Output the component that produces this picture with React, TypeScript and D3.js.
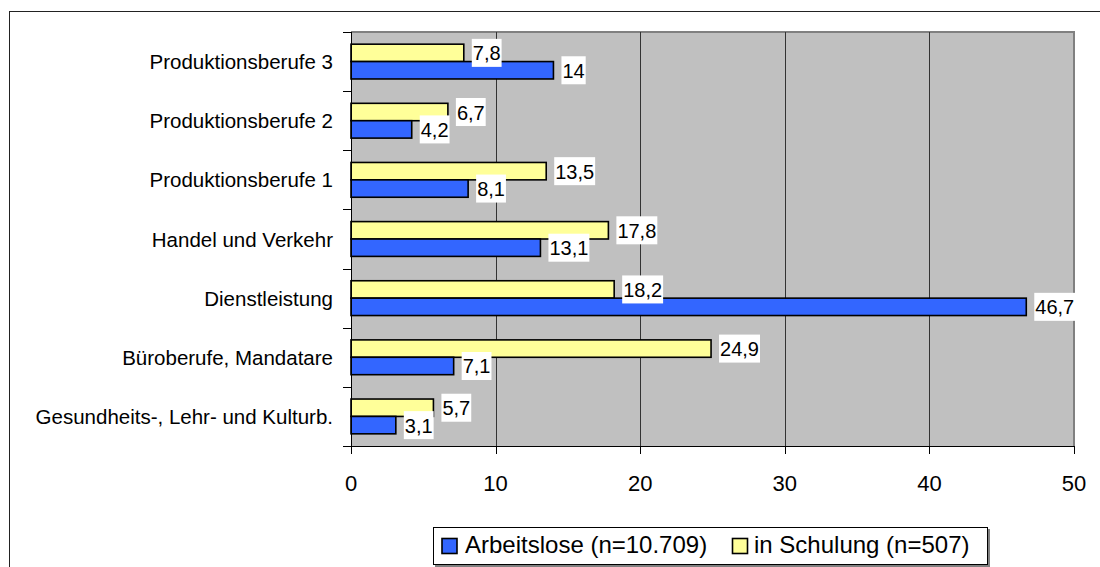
import React, { useEffect, useRef } from 'react';
import * as d3 from 'd3';

// categories top to bottom
const categories = [
  'Produktionsberufe 3',
  'Produktionsberufe 2',
  'Produktionsberufe 1',
  'Handel und Verkehr',
  'Dienstleistung',
  'Büroberufe, Mandatare',
  'Gesundheits-, Lehr- und Kulturb.',
];
const arbeitslose = [14, 4.2, 8.1, 13.1, 46.7, 7.1, 3.1];
const schulung = [7.8, 6.7, 13.5, 17.8, 18.2, 24.9, 5.7];
const xTicks = [0, 10, 20, 30, 40, 50];
const legendLabels = ['Arbeitslose (n=10.709)', 'in Schulung (n=507)'];

const BLUE = '#3366FF';
const YELLOW = '#FFFF99';
const FONT = '"Liberation Sans", Arial, sans-serif';

const fmt = (v: number) => String(v).replace('.', ',');

const App = () => {
  const ref = useRef<SVGSVGElement>(null);

  useEffect(() => {
    const svg = d3.select(ref.current);
    svg.selectAll('*').remove();

    const width = 1100;
    const height = 567;
    const plot = { left: 351, right: 1074, top: 32, bottom: 446 };

    // outer chart frame (runs off the right/bottom edge)
    svg.append('rect')
      .attr('x', 9.5).attr('y', 11.5)
      .attr('width', 1200).attr('height', 700)
      .attr('fill', 'white')
      .attr('stroke', '#222').attr('stroke-width', 1);

    const x = d3.scaleLinear().domain([0, 50]).range([plot.left, plot.right]);
    const y = d3.scaleBand().domain(categories).range([plot.top, plot.bottom]).padding(0);
    const inner = d3.scaleBand()
      .domain(['schulung', 'arbeitslose'])
      .range([0, y.bandwidth()])
      .paddingInner(0)
      .paddingOuter(0.7);

    // plot area
    svg.append('rect')
      .attr('x', plot.left).attr('y', plot.top)
      .attr('width', plot.right - plot.left).attr('height', plot.bottom - plot.top)
      .attr('fill', '#C0C0C0');
    svg.append('path')
      .attr('d', `M${plot.left},${plot.top} H${plot.right} V${plot.bottom}`)
      .attr('fill', 'none')
      .attr('stroke', '#808080')
      .attr('stroke-width', 2);

    // gridlines
    svg.append('g').selectAll('line')
      .data(xTicks.filter(t => t > 0 && t < 50))
      .enter().append('line')
      .attr('x1', d => Math.round(x(d)) + 0.5).attr('x2', d => Math.round(x(d)) + 0.5)
      .attr('y1', plot.top).attr('y2', plot.bottom)
      .attr('stroke', '#333').attr('stroke-width', 1);

    // bars
    const series = [
      { key: 'schulung', values: schulung, color: YELLOW },
      { key: 'arbeitslose', values: arbeitslose, color: BLUE },
    ];
    series.forEach(s => {
      svg.append('g').selectAll('rect')
        .data(categories)
        .enter().append('rect')
        .attr('x', x(0))
        .attr('y', (c) => y(c)! + inner(s.key)!)
        .attr('width', (c, i) => x(s.values[i]) - x(0))
        .attr('height', inner.bandwidth())
        .attr('fill', s.color)
        .attr('stroke', 'black')
        .attr('stroke-width', 1.6);
    });

    // axes
    const axisG = svg.append('g');
    axisG.append('line')
      .attr('x1', plot.left + 0.5).attr('x2', plot.left + 0.5)
      .attr('y1', plot.top).attr('y2', plot.bottom + 0.5)
      .attr('stroke', 'black');
    axisG.append('line')
      .attr('x1', plot.left).attr('x2', plot.right)
      .attr('y1', plot.bottom + 0.5).attr('y2', plot.bottom + 0.5)
      .attr('stroke', 'black');
    const bounds = categories.map(c => y(c)!).concat([plot.bottom]);
    axisG.selectAll('.ytick')
      .data(bounds)
      .enter().append('line')
      .attr('x1', plot.left - 8).attr('x2', plot.left)
      .attr('y1', d => Math.round(d) + 0.5).attr('y2', d => Math.round(d) + 0.5)
      .attr('stroke', 'black');
    axisG.selectAll('.xtick')
      .data(xTicks)
      .enter().append('line')
      .attr('x1', d => Math.round(x(d)) + 0.5).attr('x2', d => Math.round(x(d)) + 0.5)
      .attr('y1', plot.bottom).attr('y2', plot.bottom + 8)
      .attr('stroke', 'black');
    axisG.selectAll('.xlabel')
      .data(xTicks)
      .enter().append('text')
      .attr('x', d => x(d))
      .attr('y', plot.bottom + 45)
      .attr('text-anchor', 'middle')
      .style('font-family', FONT)
      .style('font-size', '22px')
      .text(d => String(d));
    axisG.selectAll('.ylabel')
      .data(categories)
      .enter().append('text')
      .attr('x', 333)
      .attr('y', c => y(c)! + y.bandwidth() / 2 + 7.5)
      .attr('text-anchor', 'end')
      .style('font-family', FONT)
      .style('font-size', '20.5px')
      .text(c => c);

    // value labels (drawn over bars, white boxes)
    const labelG = svg.append('g');
    series.forEach(s => {
      categories.forEach((c, i) => {
        const v = s.values[i];
        const cy = y(c)! + inner(s.key)! + inner.bandwidth() / 2;
        const bx = x(v) + 8;
        const g = labelG.append('g');
        const rect = g.append('rect').attr('fill', 'white');
        const t = g.append('text')
          .attr('x', bx + 1)
          .attr('y', cy + 7.5)
          .style('font-family', FONT)
          .style('font-size', '20px')
          .text(fmt(v));
        const w = (t.node() as SVGTextElement).getComputedTextLength();
        rect.attr('x', bx).attr('y', cy - 14).attr('width', w + 2).attr('height', 28);
      });
    });

    // legend
    const lg = svg.append('g');
    lg.append('rect')
      .attr('x', 435).attr('y', 529)
      .attr('width', 555).attr('height', 38)
      .attr('fill', '#808080');
    lg.append('rect')
      .attr('x', 433.5).attr('y', 527.5)
      .attr('width', 554).attr('height', 37)
      .attr('fill', 'white')
      .attr('stroke', 'black');
    const items = [
      { label: legendLabels[0], color: BLUE, sx: 442, tx: 465 },
      { label: legendLabels[1], color: YELLOW, sx: 732.5, tx: 754 },
    ];
    items.forEach(it => {
      lg.append('rect')
        .attr('x', it.sx).attr('y', 538.5)
        .attr('width', 15).attr('height', 15)
        .attr('fill', it.color)
        .attr('stroke', 'black').attr('stroke-width', 1.6);
      lg.append('text')
        .attr('x', it.tx).attr('y', 552.7)
        .style('font-family', FONT)
        .style('font-size', '24px')
        .text(it.label);
    });

    svg.attr('width', width).attr('height', height);
  }, []);

  return (
    <div style={{ position: 'absolute', left: 0, top: 0 }}>
      <svg ref={ref} width={1100} height={567} style={{ display: 'block', background: 'white' }} />
    </div>
  );
};

export default App;
